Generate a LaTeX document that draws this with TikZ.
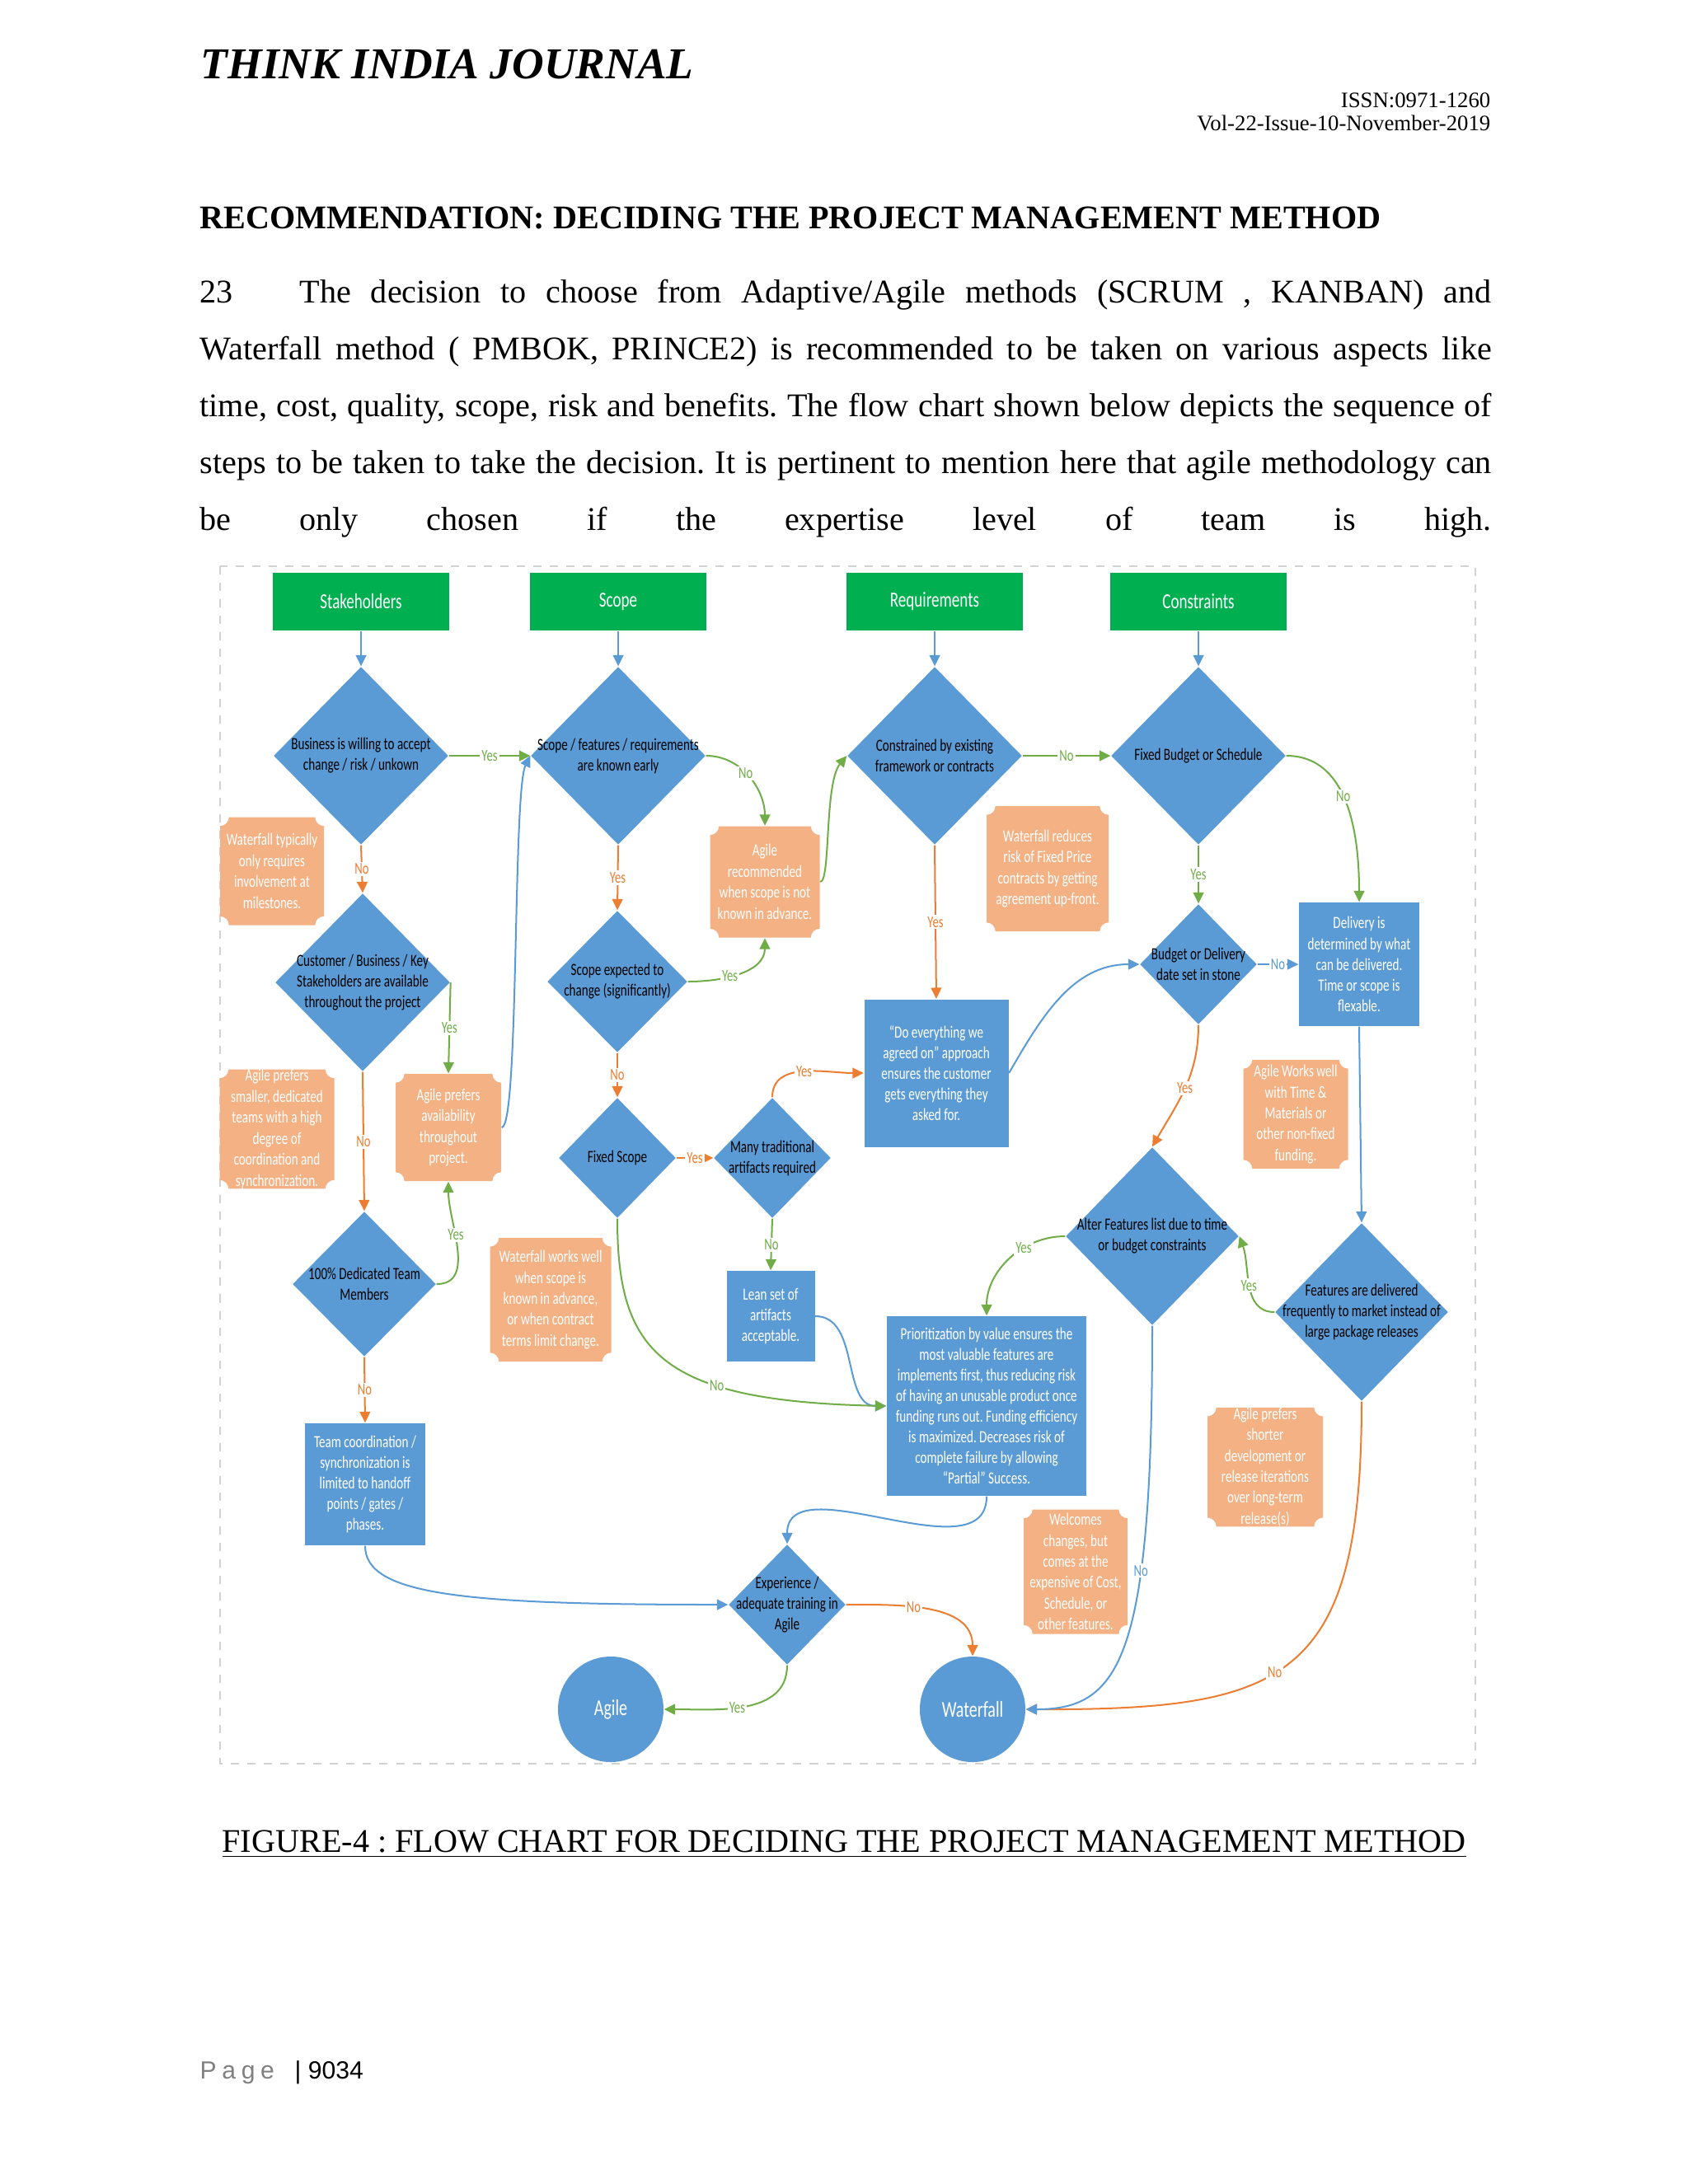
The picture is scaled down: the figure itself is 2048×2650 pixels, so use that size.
\documentclass[tikz,border=0pt]{standalone}
\usepackage{fontspec}
\setmainfont{Liberation Serif}
\newfontfamily\dfont[FakeStretch=0.73]{Carlito}
\newfontfamily\pgfont{Liberation Sans}
\usetikzlibrary{shapes.geometric, arrows.meta, calc}
\frenchspacing

\definecolor{hdrgreen}{HTML}{00B050}
\definecolor{boxblue}{HTML}{5B9BD5}
\definecolor{notefill}{HTML}{F4B183}
\definecolor{lnorange}{HTML}{ED7D31}
\definecolor{lngreen}{HTML}{70AD47}
\definecolor{lnblue}{HTML}{5B9BD5}

% one pixel of the page
\def\pxu{0.298828pt}

\tikzset{
  hdr/.style={rectangle, fill=hdrgreen, text=white, inner sep=0pt,
    minimum width=214*\pxu, minimum height=70*\pxu, font=\dfont\fontsize{7.8}{9}\selectfont},
  decision/.style 2 args={diamond, fill=boxblue, inner sep=0pt,
    minimum width=#1*\pxu, minimum height=#2*\pxu},
  dlabel/.style={font=\dfont\fontsize{6.2}{7.5}\selectfont, align=center, text=black, inner sep=0pt},
  proc/.style 2 args={rectangle, fill=boxblue, text=white, align=center, inner sep=0pt,
    minimum width=#1*\pxu, minimum height=#2*\pxu, font=\dfont\fontsize{6.2}{7.5}\selectfont},
  term/.style={circle, fill=boxblue, text=white, inner sep=0pt,
    minimum size=128*\pxu, font=\dfont\fontsize{8.2}{10}\selectfont},
  note/.style 2 args={rectangle, inner sep=0pt, align=center, text=white,
    minimum width=#1*\pxu, minimum height=#2*\pxu, font=\dfont\fontsize{6.2}{7.6}\selectfont,
    path picture={
      \fill[notefill] let \p1=(path picture bounding box.south west),
        \p2=(path picture bounding box.north east) in
        (\x1+3.2pt,\y1) -- (\x2-3.2pt,\y1) arc[start angle=180, end angle=90, radius=3.2pt]
        -- (\x2,\y2-3.2pt) arc[start angle=270, end angle=180, radius=3.2pt]
        -- (\x1+3.2pt,\y2) arc[start angle=0, end angle=-90, radius=3.2pt]
        -- (\x1,\y1+3.2pt) arc[start angle=90, end angle=0, radius=3.2pt] -- cycle;}},
  ln/.style={line width=0.6pt, -{Triangle[length=4pt, width=3.8pt]}},
  gline/.style={ln, color=lngreen},
  oline/.style={ln, color=lnorange},
  bline/.style={ln, color=lnblue},
  lab/.style={fill=white, inner sep=0.6pt, font=\dfont\fontsize{6}{7}\selectfont},
  txt/.style={anchor=base west, inner sep=0pt, font=\fontsize{12}{14}\selectfont}
}

\begin{document}
\begin{tikzpicture}[x=0.298828pt, y=0.298828pt]

\fill[white] (0,0) rectangle (2048,-2650);
\useasboundingbox (0,0) rectangle (2048,-2650);

% page head
\node[anchor=base west, inner sep=0pt, font=\fontsize{16}{19}\selectfont\bfseries\itshape] (jname) at (243,-95) {THINK INDIA JOURNAL};
\node[anchor=base east, inner sep=0pt, font=\fontsize{8}{10}\selectfont] (issn) at (1809,-130) {ISSN:0971-1260};
\node[anchor=base east, inner sep=0pt, font=\fontsize{8}{10}\selectfont] (vol) at (1809,-158) {Vol-22-Issue-10-November-2019};

\node[txt, font=\fontsize{12}{14}\selectfont\bfseries] (rec) at (242,-277) {RECOMMENDATION: DECIDING THE PROJECT MANAGEMENT METHOD};

\node[txt] (p0) at (242,-367) {23};
\node[txt] (p1) at (363,-367) {\makebox[432.1pt][s]{The decision to choose from Adaptive/Agile methods (SCRUM , KANBAN) and}};
\node[txt] (p2) at (242,-436) {\makebox[468.3pt][s]{Waterfall method ( PMBOK, PRINCE2) is recommended to be taken on various aspects like}};
\node[txt] (p3) at (242,-505) {\makebox[468.3pt][s]{time, cost, quality, scope, risk and benefits. The flow chart shown below depicts the sequence of}};
\node[txt] (p4) at (242,-574) {\makebox[468.3pt][s]{steps to be taken to take the decision. It is pertinent to mention here that agile methodology can}};
\node[txt] (p5) at (242,-643) {\makebox[468.3pt][s]{be only chosen if the expertise level of team is high.}};

% frame of the chart
\draw[gray!35, dashed, line width=0.4pt] (267,-687) rectangle (1790,-2140);

% headers
\node[hdr] (stk) at (438,-730) {Stakeholders};
\node[hdr] (scp) at (750,-730) {Scope};
\node[hdr] (req) at (1134,-730) {Requirements};
\node[hdr] (con) at (1454,-730) {Constraints};

% decisions
\node[decision={212}{216}, label={[dlabel]center:{Business is willing to accept\\change / risk / unkown}}] (d1) at (438,-917) {};
\node[decision={212}{216}, label={[dlabel]center:{Scope / features / requirements\\are known early}}] (d2) at (750,-917) {};
\node[decision={212}{216}, label={[dlabel]center:{Constrained by existing\\framework or contracts}}] (d3) at (1134,-917) {};
\node[decision={212}{216}, label={[dlabel]center:{Fixed Budget or Schedule}}] (d4) at (1454,-917) {};
\node[decision={212}{216}, label={[dlabel]center:{Customer / Business / Key\\Stakeholders are available\\throughout the project}}] (d9) at (440,-1192) {};
\node[decision={170}{172}, label={[dlabel]center:{Scope expected to\\change (significantly)}}] (d11) at (749,-1191) {};
\node[decision={142}{146}, label={[dlabel]center:{Budget or Delivery\\date set in stone}}] (d5) at (1454,-1170) {};
\node[decision={142}{146}, label={[dlabel]center:{Fixed Scope}}] (d12) at (749,-1405) {};
\node[decision={142}{146}, label={[dlabel]center:{Many traditional\\artifacts required}}] (d13) at (937,-1405) {};
\node[decision={210}{216}, label={[dlabel]center:{Alter Features list due to time\\or budget constraints}}] (d6) at (1398,-1500) {};
\node[decision={174}{176}, label={[dlabel]center:{100\% Dedicated Team\\Members}}] (d10) at (442,-1558) {};
\node[decision={210}{216}, label={[dlabel]center:{Features are delivered\\frequently to market instead of\\large package releases}}] (d7) at (1652,-1592) {};
\node[decision={142}{146}, label={[dlabel]center:{Experience /\\adequate training in\\Agile}}] (d8) at (955,-1947) {};

% process boxes
\node[proc={175}{179}] (doev) at (1136,-1302) {“Do everything we\\agreed on” approach\\ensures the customer\\gets everything they\\asked for.};
\node[proc={146}{150}] (deliv) at (1649,-1170) {Delivery is\\determined by what\\can be delivered.\\Time or scope is\\flexable.};
\node[proc={107}{110}] (lean) at (935,-1597) {Lean set of\\artifacts\\acceptable.};
\node[proc={242}{218}] (prio) at (1197,-1706) {Prioritization by value ensures the\\most valuable features are\\implements first, thus reducing risk\\of having an unusable product once\\funding runs out. Funding efficiency\\is maximized. Decreases risk of\\complete failure by allowing\\“Partial” Success.};
\node[proc={146}{148}] (team) at (443,-1801) {Team coordination /\\synchronization is\\limited to handoff\\points / gates /\\phases.};

% end points
\node[term] (agile) at (741,-2074) {Agile};
\node[term] (wf) at (1180,-2074) {Waterfall};

% notes
\node[note={126}{131}] (wft) at (330,-1057) {Waterfall typically\\only requires\\involvement at\\milestones.};
\node[note={133}{135}] (agrec) at (928,-1070) {Agile\\recommended\\when scope is not\\known in advance.};
\node[note={148}{152}] (wfred) at (1271,-1054) {Waterfall reduces\\risk of Fixed Price\\contracts by getting\\agreement up-front.};
\node[note={139}{144}] (small) at (336,-1370) {Agile prefers\\smaller, dedicated\\teams with a high\\degree of\\coordination and\\synchronization.};
\node[note={128}{130}] (avail) at (544,-1368) {Agile prefers\\availability\\throughout\\project.};
\node[note={127}{132}] (agtm) at (1572,-1352) {Agile Works well\\with Time \&\\Materials or\\other non-fixed\\funding.};
\node[note={147}{150}] (wfwell) at (668,-1577) {Waterfall works well\\when scope is\\known in advance,\\or when contract\\terms limit change.};
\node[note={126}{151}] (welc) at (1305,-1907) {Welcomes\\changes, but\\comes at the\\expensive of Cost,\\Schedule, or\\other features.};
\node[note={140}{144}] (short) at (1535,-1780) {Agile prefers\\shorter\\development or\\release iterations\\over long-term\\release(s)};

% connectors
\draw[bline] (stk.south) -- (d1.north);
\draw[bline] (scp.south) -- (d2.north);
\draw[bline] (req.south) -- (d3.north);
\draw[bline] (con.south) -- (d4.north);

\draw[gline] (d1.east) -- node[lab]{Yes} (d2.west);
\draw[oline] (d1.south) -- node[lab]{No} (d9.north);
\draw[gline] (d2.east) to[out=0,in=90] node[lab,pos=.45]{No} (agrec.north);
\draw[gline] (agrec.east) .. controls (1008,-1070) and (1000,-950) .. (d3.west);
\draw[oline] (d2.south) -- node[lab]{Yes} (d11.north);
\draw[gline] (d11.east) to[out=0,in=-90] node[lab,pos=.4]{Yes} (agrec.south);
\draw[gline] (d3.east) -- node[lab]{No} (d4.west);
\draw[oline] (d3.south) -- node[lab]{Yes} (doev.north);
\draw[gline] (d4.south) -- node[lab]{Yes} (d5.north);
\draw[gline] (d4.east) to[out=0,in=90] node[lab,pos=.45]{No} (deliv.north);
\draw[bline] (d5.east) -- node[lab]{No} (deliv.west);
\draw[bline] (doev.east) to[out=60,in=180] (d5.west);
\draw[oline] (d5.south) to[out=-90,in=60] node[lab]{Yes} (d6.north);
\draw[gline] (d6.west) to[out=180,in=90] node[lab,pos=.35]{Yes} (prio.north);
\draw[bline] (deliv.south) -- (d7.north);
\draw[gline] (d7.west) to[out=180,in=-70] node[lab]{Yes} (d6.east);
\draw[oline] (d7.south) .. controls (1652,-2040) and (1560,-2075) .. node[lab,pos=.55]{No} (wf.east);
\draw[bline] (d6.south) .. controls (1398,-2010) and (1360,-2074) .. node[lab,pos=.33]{No} (wf.east);

\draw[gline] (d9.east) -- node[lab]{Yes} (avail.north);
\draw[oline] (d9.south) -- node[lab]{No} (d10.north);
\draw[gline] (d10.east) to[out=0,in=-90] node[lab,pos=.6]{Yes} (avail.south);
\draw[oline] (d10.south) -- node[lab]{No} (team.north);
\draw[bline] (avail.east) .. controls (630,-1368) and (622,-960) .. (d2.west);

\draw[oline] (d11.south) -- node[lab]{No} (d12.north);
\draw[oline] (d12.east) -- node[lab]{Yes} (d13.west);
\draw[oline] (d13.north) to[out=90,in=180] node[lab,pos=.5]{Yes} (doev.west);
\draw[gline] (d13.south) -- node[lab]{No} (lean.north);
\draw[bline] (lean.east) to[out=0,in=180] (prio.west);
\draw[gline] (d12.south) .. controls (749,-1640) and (800,-1700) .. node[lab,pos=.67]{No} (prio.west);

\draw[bline] (prio.south) to[out=-90,in=90] (d8.north);
\draw[bline] (team.south) .. controls (443,-1935) and (560,-1947) .. (d8.west);
\draw[oline] (d8.east) to[out=0,in=90] node[lab,pos=.4]{No} (wf.north);
\draw[gline] (d8.south) to[out=-90,in=0] node[lab,pos=.55]{Yes} (agile.east);

% caption and page foot
\node[txt] (cap) at (269,-2247) {\underline{FIGURE-4 : FLOW CHART FOR DECIDING THE PROJECT MANAGEMENT METHOD}};
\node[anchor=base west, inner sep=0pt, font=\pgfont\fontsize{9}{11}\selectfont, text=gray] (pg) at (242,-2522) {\makebox[27pt][s]{P a g e}};
\node[anchor=base west, inner sep=0pt, font=\pgfont\fontsize{9}{11}\selectfont] (pgno) at (357,-2522) {| 9034};

\end{tikzpicture}
\end{document}
